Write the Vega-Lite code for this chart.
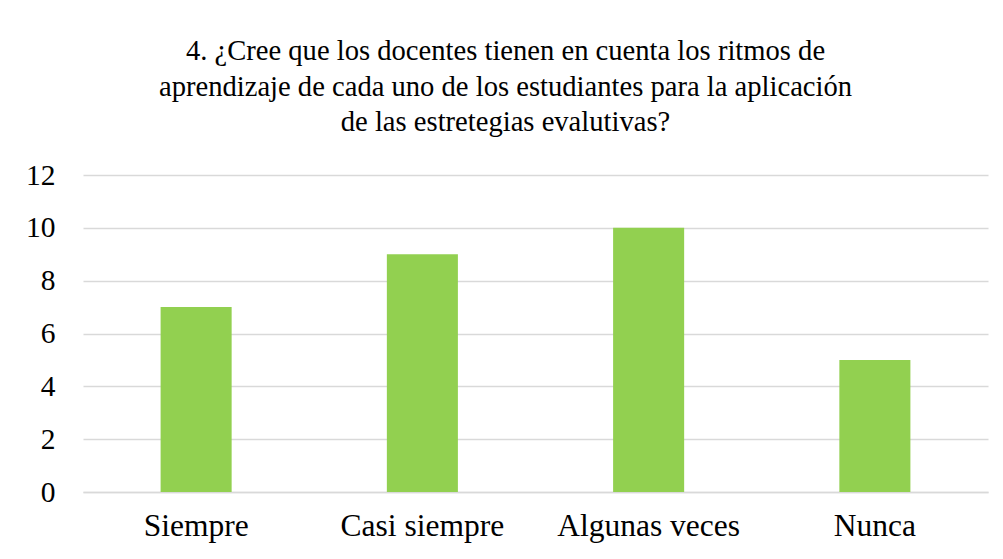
{
  "$schema": "https://vega.github.io/schema/vega-lite/v6.json",
  "autosize": {"type": "none"},
  "width": 905,
  "height": 317,
  "padding": {"left": 83, "top": 175, "right": 15, "bottom": 67},
  "background": "white",
  "title": {
    "text": ["4. ¿Cree que los docentes tienen en cuenta los ritmos de", "aprendizaje de cada uno de los estudiantes para la aplicación", "de las estretegias evalutivas?"],
    "font": "Liberation Serif",
    "fontSize": 28.6,
    "fontWeight": "normal",
    "color": "#000000",
    "lineHeight": 35.5,
    "anchor": "middle",
    "dx": -30,
    "offset": 23
  },
  "data": {
    "values": [
      {"categoria": "Siempre", "valor": 7},
      {"categoria": "Casi siempre", "valor": 9},
      {"categoria": "Algunas veces", "valor": 10},
      {"categoria": "Nunca", "valor": 5}
    ]
  },
  "mark": {"type": "bar", "color": "#92D050"},
  "encoding": {
    "x": {
      "field": "categoria",
      "type": "nominal",
      "sort": null,
      "scale": {"paddingInner": 0.686, "paddingOuter": 0.343},
      "axis": {
        "title": null,
        "labelAngle": 0,
        "labelFont": "Liberation Serif",
        "labelFontSize": 31.5,
        "labelColor": "#000000",
        "labelPadding": 18,
        "labelLimit": 0,
        "ticks": false,
        "domainColor": "#D9D9D9",
        "domainWidth": 1.5
      }
    },
    "y": {
      "field": "valor",
      "type": "quantitative",
      "scale": {"domain": [0, 12]},
      "axis": {
        "title": null,
        "values": [0, 2, 4, 6, 8, 10, 12],
        "labelFont": "Liberation Serif",
        "labelFontSize": 29.5,
        "labelColor": "#000000",
        "labelPadding": 28,
        "ticks": false,
        "domain": false,
        "gridColor": "#D9D9D9",
        "gridWidth": 1.5
      }
    }
  },
  "config": {"view": {"stroke": null}}
}
